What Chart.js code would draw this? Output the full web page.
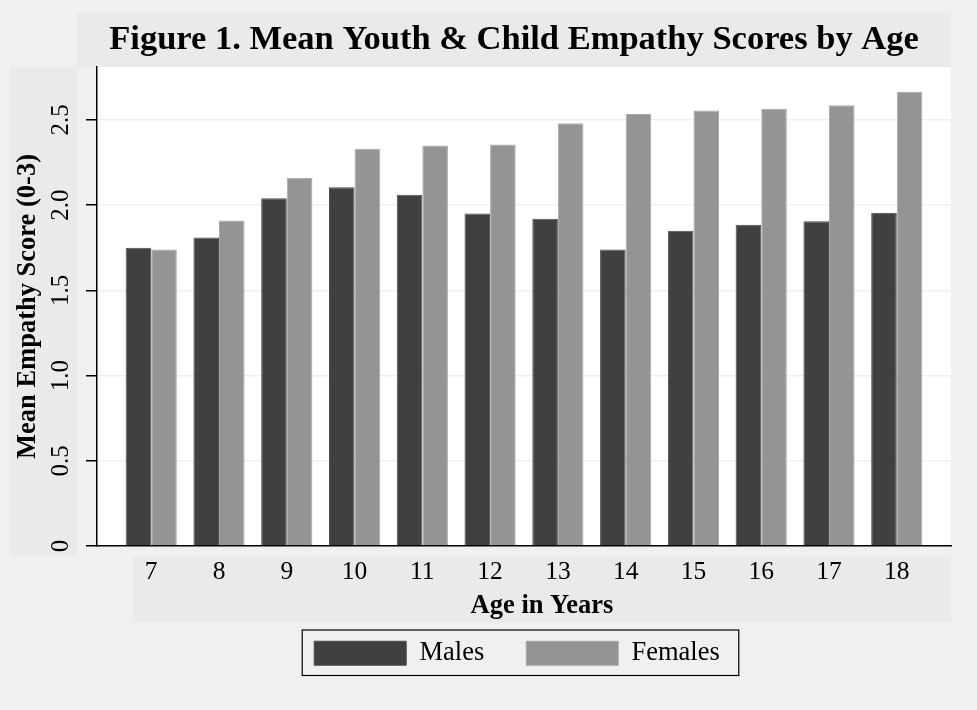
<!DOCTYPE html>
<html>
<head>
<meta charset="utf-8">
<script src="https://cdn.jsdelivr.net/npm/chart.js@4.4.1/dist/chart.umd.min.js"></script>
<style>
  body { margin: 0; background: #f0f0f0; }
  #wrap { width: 977px; height: 710px; }
</style>
</head>
<body>
<div id="wrap"><canvas id="chart"></canvas></div>
<script>
const ages = [7, 8, 9, 10, 11, 12, 13, 14, 15, 16, 17, 18]
const males = [1.75, 1.81, 2.04, 2.105, 2.06, 1.95, 1.92, 1.74, 1.85, 1.885, 1.905, 1.955]
const females = [1.74, 1.91, 2.16, 2.33, 2.35, 2.355, 2.48, 2.535, 2.555, 2.565, 2.585, 2.665]
const yTickValues = [0, 0.5, 1, 1.5, 2, 2.5]
const yTickLabels = ['0', '0.5', '1.0', '1.5', '2.0', '2.5']

const serif = "'Liberation Serif', 'Times New Roman', serif"

// gray bands + white plot region, legend frame, title nudges
const stataLook = {
  id: 'stataLook',
  afterLayout(chart) {
    const a = chart.chartArea
    chart.titleBlock.left = a.left - 20
    chart.titleBlock.right = a.right
    chart.legend.left -= 7
    chart.legend.right -= 7
    // x title sits centred in its gray band, not over the whole axis
    const xs = chart.scales.x
    if (!xs._origDrawTitle) {
      xs._origDrawTitle = xs.drawTitle
      xs.drawTitle = function () {
        const l = this.left
        this.left = l + 36
        this._origDrawTitle()
        this.left = l
      }
    }
  },
  beforeDraw(chart) {
    const { ctx, chartArea: a, titleBlock: t } = chart
    ctx.save()
    ctx.fillStyle = '#f0f0f0'
    ctx.fillRect(0, 0, chart.width, chart.height)
    ctx.fillStyle = '#eaeaea'
    ctx.fillRect(a.left - 20, t.top, a.right - a.left + 20, t.bottom - t.top)
    ctx.fillRect(10, a.top, a.left - 30, a.bottom - a.top + 10)
    ctx.fillRect(a.left + 36, a.bottom + 10, a.right - a.left - 36, 66)
    ctx.fillStyle = '#ffffff'
    ctx.fillRect(a.left, a.top, a.right - a.left, a.bottom - a.top)
    ctx.restore()
  },
  afterDraw(chart) {
    const boxes = chart.legend.legendHitBoxes
    if (!boxes || !boxes.length) return
    const first = boxes[0], last = boxes[boxes.length - 1]
    const ctx = chart.ctx
    const x0 = first.left - 12, x1 = last.left + last.width + 19
    const y0 = first.top - 10, y1 = first.top + first.height + 9
    ctx.save()
    ctx.globalCompositeOperation = 'destination-over'
    ctx.fillStyle = '#ffffff'
    ctx.fillRect(x0, y0, x1 - x0, y1 - y0)
    ctx.restore()
    ctx.save()
    ctx.strokeStyle = '#000000'
    ctx.lineWidth = 1.2
    ctx.strokeRect(x0, y0, x1 - x0, y1 - y0)
    ctx.restore()
  }
}

new Chart(document.getElementById('chart'), {
  type: 'bar',
  data: {
    datasets: [
      {
        label: 'Males',
        data: ages.map((a, i) => ({ x: a, y: males[i] })),
        backgroundColor: '#404040',
        borderColor: '#4c4c4c',
        borderWidth: 1
      },
      {
        label: 'Females',
        data: ages.map((a, i) => ({ x: a, y: females[i] })),
        backgroundColor: '#949494',
        borderColor: '#a8a8a8',
        borderWidth: 1
      }
    ]
  },
  options: {
    responsive: true,
    maintainAspectRatio: false,
    animation: false,
    categoryPercentage: 0.755,
    barPercentage: 1.0,
    layout: { padding: { left: 10, right: 26, top: 12, bottom: 33.5 } },
    plugins: {
      tooltip: { enabled: false },
      title: {
        display: true,
        fullSize: false,
        text: 'Figure 1. Mean Youth & Child Empathy Scores by Age',
        color: '#000',
        font: { family: serif, size: 34.5, weight: 'bold' },
        padding: { top: 7, bottom: 6.6 }
      },
      legend: {
        position: 'bottom',
        fullSize: false,
        labels: {
          color: '#000',
          font: { family: serif, size: 26.5 },
          boxWidth: 92,
          boxHeight: 24,
          padding: 42
        }
      }
    },
    scales: {
      x: {
        type: 'linear',
        min: 6.2,
        max: 18.8,
        offset: false,
        afterBuildTicks: s => { s.ticks = ages.map(v => ({ value: v })) },
        afterFit: s => { s.height = 52 },
        grid: { display: false, drawTicks: false },
        border: { display: true, color: '#000', width: 1.5 },
        ticks: {
          color: '#000',
          font: { family: serif, size: 25.5 },
          padding: 11,
          maxRotation: 0,
          callback: v => String(v)
        },
        title: {
          display: true,
          text: 'Age in Years',
          color: '#000',
          font: { family: serif, size: 26.5, weight: 'bold' },
          padding: { top: 0, bottom: -24 }
        }
      },
      y: {
        min: 0,
        max: 2.81,
        afterBuildTicks: s => { s.ticks = yTickValues.map(v => ({ value: v })) },
        afterFit: s => { s.width = 87 },
        grid: { color: '#efefef', lineWidth: 1.5, tickColor: '#000', tickLength: 11, tickWidth: 1.5 },
        border: { display: true, color: '#000', width: 1.5 },
        ticks: {
          color: '#000',
          font: { family: serif, size: 25 },
          padding: 9,
          minRotation: 90,
          maxRotation: 90,
          crossAlign: 'center',
          callback: (v, i) => yTickLabels[i]
        },
        title: {
          display: true,
          text: 'Mean Empathy Score (0-3)',
          color: '#000',
          font: { family: serif, size: 26.5, weight: 'bold' },
          padding: { top: 2, bottom: 0 }
        }
      }
    }
  },
  plugins: [stataLook]
})
</script>
</body>
</html>
